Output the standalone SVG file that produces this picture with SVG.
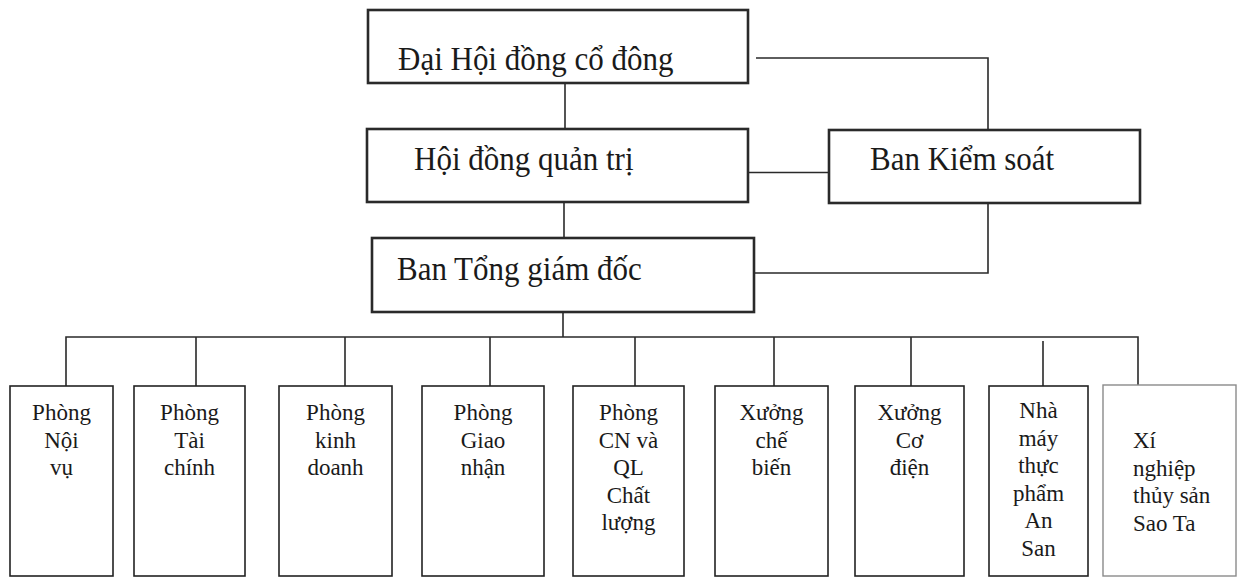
<svg xmlns="http://www.w3.org/2000/svg" width="1239" height="577" viewBox="0 0 1239 577">
<style>
.top{fill:#fff;stroke:#2a2a2a;stroke-width:2.6}
.box{fill:#fff;stroke:#222;stroke-width:1.6}
.light{fill:#fff;stroke:#8a8a8a;stroke-width:1.4}
.big{font-family:"Liberation Serif","Times New Roman",serif;font-size:31px;fill:#1a1a1a}
.sm{font-family:"Liberation Serif","Times New Roman",serif;font-size:23px;fill:#1a1a1a;text-anchor:middle}
.sml{font-family:"Liberation Serif","Times New Roman",serif;font-size:23px;fill:#1a1a1a}
.con{fill:none;stroke:#2a2a2a;stroke-width:1.6}
</style>
<rect width="1239" height="577" fill="#fff"/>
<g id="connectors">
<path class="con" d="M565 83V129"/>
<path class="con" d="M756 58H988V130"/>
<path class="con" d="M748 172.5H829"/>
<path class="con" d="M564 193V238"/>
<path class="con" d="M988 203V273H754"/>
<path class="con" d="M563 312V337"/>
<path class="con" d="M66 386V337H1138V385"/>
<path class="con" d="M196 337V386M345 337V386M490 337V386M635 337V386M774 337V386M911 337V386M1043 341V386"/>
</g>
<g id="n-dhdcd"><rect class="top" x="368" y="10" width="380" height="73"/><text class="big" transform="translate(398 70) scale(1 1.1)">Đại Hội đồng cổ đông</text></g>
<g id="n-hdqt"><rect class="top" x="367" y="129" width="381" height="73"/><text class="big" transform="translate(414 170) scale(1 1.1)">Hội đồng quản trị</text></g>
<g id="n-bks"><rect class="top" x="829" y="130" width="311" height="73"/><text class="big" transform="translate(870 170) scale(1 1.1)">Ban Kiểm soát</text></g>
<g id="n-btgd"><rect class="top" x="372" y="238" width="382" height="74"/><text class="big" transform="translate(397 280) scale(1 1.1)">Ban Tổng giám đốc</text></g>
<g id="n-noivu"><rect class="box" x="10" y="386" width="103" height="190"/><text class="sm" x="61.5" y="420">Phòng<tspan x="61.5" dy="27.5">Nội</tspan><tspan x="61.5" dy="27.5">vụ</tspan></text></g>
<g id="n-taichinh"><rect class="box" x="134" y="386" width="111" height="190"/><text class="sm" x="189.5" y="420">Phòng<tspan x="189.5" dy="27.5">Tài</tspan><tspan x="189.5" dy="27.5">chính</tspan></text></g>
<g id="n-kinhdoanh"><rect class="box" x="279" y="386" width="113" height="190"/><text class="sm" x="335.5" y="420">Phòng<tspan x="335.5" dy="27.5">kinh</tspan><tspan x="335.5" dy="27.5">doanh</tspan></text></g>
<g id="n-giaonhan"><rect class="box" x="422" y="386" width="122" height="190"/><text class="sm" x="483" y="420">Phòng<tspan x="483" dy="27.5">Giao</tspan><tspan x="483" dy="27.5">nhận</tspan></text></g>
<g id="n-cnql"><rect class="box" x="573" y="386" width="111" height="190"/><text class="sm" x="628.5" y="420">Phòng<tspan x="628.5" dy="27.5">CN và</tspan><tspan x="628.5" dy="27.5">QL</tspan><tspan x="628.5" dy="27.5">Chất</tspan><tspan x="628.5" dy="27.5">lượng</tspan></text></g>
<g id="n-chebien"><rect class="box" x="715" y="386" width="113" height="190"/><text class="sm" x="771.5" y="420">Xưởng<tspan x="771.5" dy="27.5">chế</tspan><tspan x="771.5" dy="27.5">biến</tspan></text></g>
<g id="n-codien"><rect class="box" x="855" y="386" width="109" height="190"/><text class="sm" x="909.5" y="420">Xưởng<tspan x="909.5" dy="27.5">Cơ</tspan><tspan x="909.5" dy="27.5">điện</tspan></text></g>
<g id="n-ansan"><rect class="box" x="989" y="386" width="99" height="190"/><text class="sm" x="1038.5" y="418">Nhà<tspan x="1038.5" dy="27.5">máy</tspan><tspan x="1038.5" dy="27.5">thực</tspan><tspan x="1038.5" dy="27.5">phẩm</tspan><tspan x="1038.5" dy="27.5">An</tspan><tspan x="1038.5" dy="27.5">San</tspan></text></g>
<g id="n-saota"><rect class="light" x="1103" y="385" width="133" height="191"/><text class="sml" x="1133" y="448">Xí<tspan x="1133" dy="27.5">nghiệp</tspan><tspan x="1133" dy="27.5">thủy sản</tspan><tspan x="1133" dy="27.5">Sao Ta</tspan></text></g>
</svg>
